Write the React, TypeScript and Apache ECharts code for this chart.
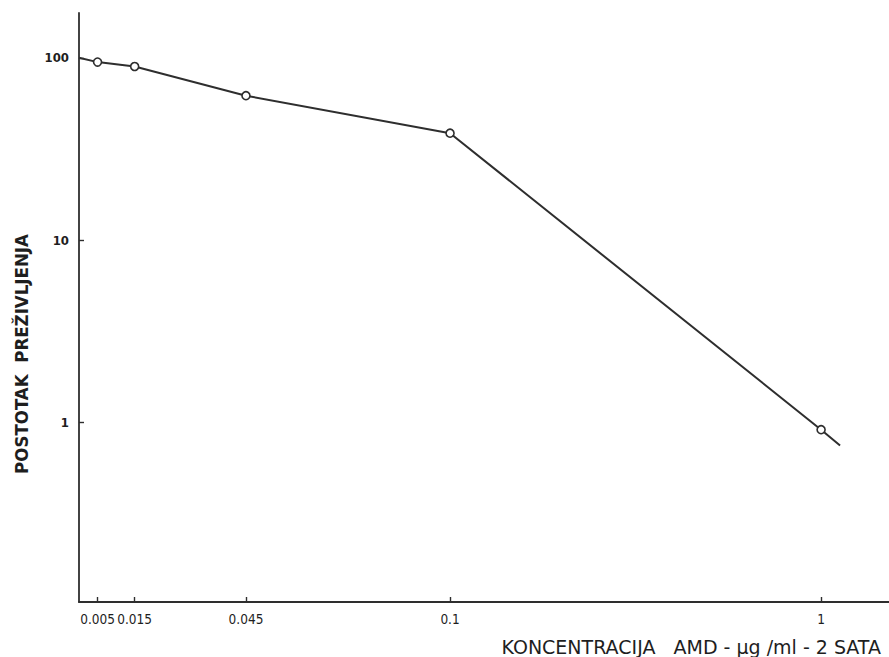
import React, { useEffect, useRef } from "react";
import * as echarts from "echarts";

// Concentration (µg/ml) and survival (%)
const concentrations = [0, 0.005, 0.015, 0.045, 0.1, 1, 1.046];
const survival = [100, 94.7, 89.6, 62, 38.6, 0.915, 0.75];
const measured = [false, true, true, true, true, true, false];

const xTickValues = [0.005, 0.015, 0.045, 0.1, 1];
const xTickLabels = ["0.005", "0.015", "0.045", "0.1", "1"];
const yTickValues = [1, 10, 100];
const yTickLabels = ["1", "10", "100"];

const xAxisName = "KONCENTRACIJA   AMD - µg /ml - 2 SATA";
const yAxisName = "POSTOTAK  PREŽIVLJENJA";

// broken x scale: 0–0.1 linear, 0.1–1 compressed to the same length
const toAxis = (c: number) => (c <= 0.1 ? c : 0.1 + (c - 0.1) / 9);

const COND = "'DejaVu Sans Condensed', 'DejaVu Sans', sans-serif";
const SANS = "'DejaVu Sans', sans-serif";
const INK = "#2e2e2e";

export default function App() {
  const ref = useRef<HTMLDivElement>(null);
  useEffect(() => {
    document.body.style.margin = "0";
    if (!ref.current) return;
    const chart = echarts.init(ref.current, null, { renderer: "svg" });
    const lineData = concentrations.map((c, i) => ({
      value: [toAxis(c), survival[i]],
      symbol: measured[i] ? "circle" : "none",
    }));
    const xTicksAxis = xTickValues.map(toAxis);
    chart.setOption({
      animation: false,
      backgroundColor: "#ffffff",
      grid: { left: 79, right: 0, top: 13, bottom: 55, containLabel: false },
      xAxis: {
        type: "value",
        min: 0,
        max: 0.2183,
        splitLine: { show: false },
        axisLine: { lineStyle: { color: INK, width: 1.8 } },
        axisTick: {
          inside: true,
          length: 5,
          lineStyle: { color: INK, width: 1.4 },
          customValues: xTicksAxis,
        },
        axisLabel: {
          customValues: xTicksAxis,
          margin: 10,
          color: "#1e1e1e",
          fontFamily: COND,
          fontSize: 13.5,
          fontWeight: 500,
          formatter: (v: number) => {
            const i = xTicksAxis.findIndex((t) => Math.abs(t - v) < 1e-6);
            return i >= 0 ? xTickLabels[i] : "";
          },
        },
      },
      yAxis: {
        type: "log",
        logBase: 10,
        min: 0.104,
        max: 176,
        splitLine: { show: false },
        axisLine: { lineStyle: { color: INK, width: 1.8 } },
        axisTick: {
          inside: true,
          length: 5,
          lineStyle: { color: INK, width: 1.4 },
          customValues: yTickValues,
        },
        axisLabel: {
          customValues: yTickValues,
          margin: 10,
          color: "#1e1e1e",
          fontFamily: COND,
          fontSize: 13,
          fontWeight: "bold",
          formatter: (v: number) => {
            const i = yTickValues.findIndex((t) => Math.abs(t - v) < 1e-6 * t);
            return i >= 0 ? yTickLabels[i] : "";
          },
        },
      },
      series: [
        {
          type: "line",
          data: lineData,
          showSymbol: true,
          symbolSize: 8,
          lineStyle: { color: INK, width: 2 },
          itemStyle: { color: "#ffffff", borderColor: INK, borderWidth: 1.6 },
          z: 3,
        },
      ],
      graphic: [
        {
          type: "text",
          x: 21,
          y: 354,
          rotation: Math.PI / 2,
          style: {
            text: yAxisName,
            fill: "#1e1e1e",
            font: `bold 18.5px ${COND}`,
            align: "center",
            verticalAlign: "middle",
          },
        },
        {
          type: "text",
          x: 881,
          y: 647,
          style: {
            text: xAxisName,
            fill: "#1e1e1e",
            font: `19px ${SANS}`,
            align: "right",
            verticalAlign: "middle",
          },
        },
      ],
    });
    return () => chart.dispose();
  }, []);
  return <div ref={ref} style={{ width: 889, height: 657 }} />;
}
